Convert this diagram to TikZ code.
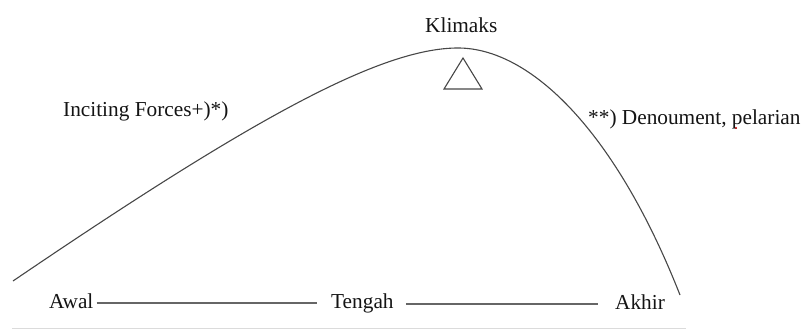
\documentclass[tikz,border=0pt]{standalone}
\usepackage{fontspec}
\setmainfont{Liberation Serif}
\begin{document}
\begin{tikzpicture}[x=1pt,y=-1pt,
  lbl/.style={inner sep=0pt,anchor=base west,text=black!92,font=\fontsize{21.3pt}{24pt}\selectfont},
  curveline/.style={draw=black!72,line width=1.1pt},
  axisline/.style={draw=black!60,line width=1.5pt}]
\useasboundingbox (0,0) rectangle (806,329);
% labels
\node[lbl] (klimaks) at (425,33) {Klimaks};
\node[lbl] (inciting) at (63,116) {Inciting Forces+)*)};
\node[lbl] (denou) at (588,124) {**) Denoument, pelarian};
\node[lbl] (awal) at (49,308) {Awal};
\node[lbl] (tengah) at (331,308) {Tengah};
\node[lbl] (akhir) at (615,309) {Akhir};
% plot curve
\coordinate (cs) at (13,281);
\coordinate (cp) at (458,48);
\coordinate (ce) at (680,295);
\draw[curveline] (cs) .. controls (250,120) and (380,48) .. (cp)
  .. controls (530,48) and (615,130) .. (ce);
% climax triangle
\draw[curveline] (463,58) -- (444,89) -- (482,89) -- cycle;
% time line
\draw[axisline,shorten <=3pt,shorten >=14pt] ([yshift=5pt]awal.base east) -- ([yshift=5pt]tengah.base west);
\draw[axisline,shorten <=12pt,shorten >=17pt] ([yshift=4pt]tengah.base east) -- ([yshift=5pt]akhir.base west);
% bottom rule
\draw[black!14,line width=1pt] (12,328) -- (686,328);
% spell-check mark
\fill[red!75!black] (736,128) circle (1.2pt);
\end{tikzpicture}
\end{document}
